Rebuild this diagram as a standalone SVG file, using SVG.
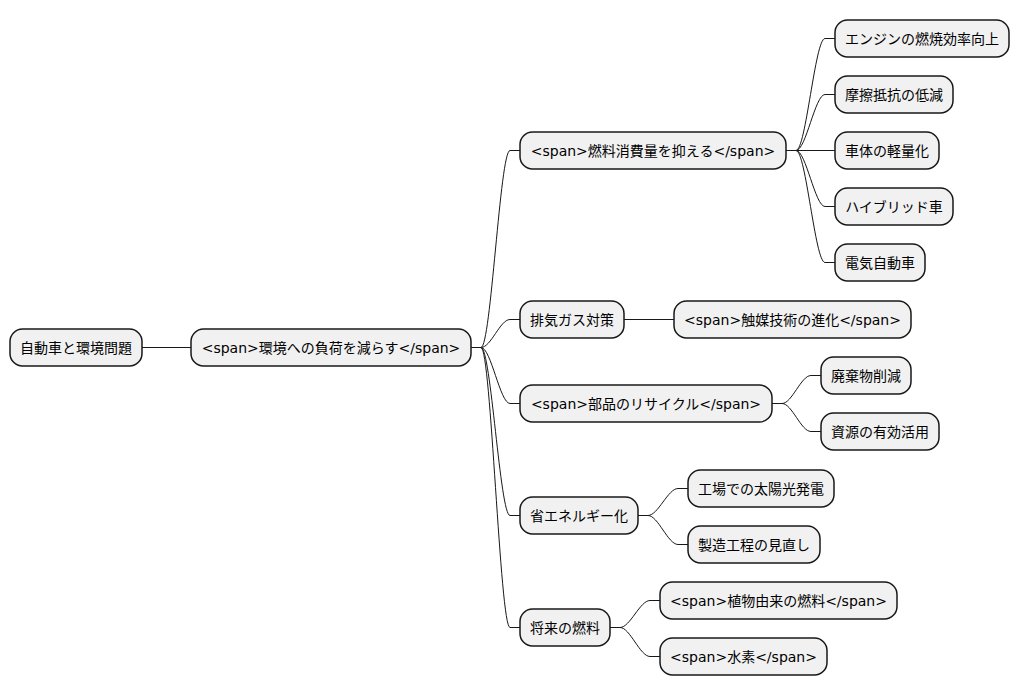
<svg xmlns="http://www.w3.org/2000/svg" width="1020" height="696" viewBox="0 0 1020 696">
<style>
.n rect{fill:#F1F1F1;stroke:#181818;stroke-width:1.5}
.n text{font-family:"DejaVu Sans","Noto Sans CJK JP",sans-serif;font-size:14px;fill:#000;text-anchor:middle}
.c path{fill:none;stroke:#181818;stroke-width:1}
</style>
<rect width="1020" height="696" fill="#FFFFFF"/>
<g class="c" id="connectors">
<path d="M142,347.5 L191,347.5"/>
<path d="M471,347.5 L481,347.5 C491,347.5 500,150.5 510,150.5 L520,150.5"/>
<path d="M471,347.5 L481,347.5 C491,347.5 500,319.5 510,319.5 L520,319.5"/>
<path d="M471,347.5 L481,347.5 C491,347.5 500,403.5 510,403.5 L520,403.5"/>
<path d="M471,347.5 L481,347.5 C491,347.5 500,515.5 510,515.5 L520,515.5"/>
<path d="M471,347.5 L481,347.5 C491,347.5 500,627.5 510,627.5 L520,627.5"/>
<path d="M786,150.5 L796,150.5 C806,150.5 815,38.5 825,38.5 L835,38.5"/>
<path d="M786,150.5 L796,150.5 C806,150.5 815,94.5 825,94.5 L835,94.5"/>
<path d="M786,150.5 L835,150.5"/>
<path d="M786,150.5 L796,150.5 C806,150.5 815,206.5 825,206.5 L835,206.5"/>
<path d="M786,150.5 L796,150.5 C806,150.5 815,262.5 825,262.5 L835,262.5"/>
<path d="M624,319.5 L674,319.5"/>
<path d="M772,403.5 L782,403.5 C792,403.5 801,375.5 811,375.5 L821,375.5"/>
<path d="M772,403.5 L782,403.5 C792,403.5 801,431.5 811,431.5 L821,431.5"/>
<path d="M638,515.5 L648,515.5 C658,515.5 668,488.5 678,488.5 L688,488.5"/>
<path d="M638,515.5 L648,515.5 C658,515.5 668,544.5 678,544.5 L688,544.5"/>
<path d="M610,627.5 L620,627.5 C630,627.5 640,600.5 650,600.5 L660,600.5"/>
<path d="M610,627.5 L620,627.5 C630,627.5 640,656.5 650,656.5 L660,656.5"/>
</g>
<g class="n" id="root"><rect x="10" y="329" width="132" height="37" rx="12.5"/><text x="76" y="352.5">自動車と環境問題</text></g>
<g class="n" id="n1"><rect x="191" y="329" width="280" height="37" rx="12.5"/><text x="331" y="352.5">&lt;span&gt;環境への負荷を減らす&lt;/span&gt;</text></g>
<g class="n" id="a"><rect x="520" y="132" width="266" height="37" rx="12.5"/><text x="653" y="155.5">&lt;span&gt;燃料消費量を抑える&lt;/span&gt;</text></g>
<g class="n" id="a1"><rect x="835" y="20" width="174" height="37" rx="12.5"/><text x="922" y="43.5">エンジンの燃焼効率向上</text></g>
<g class="n" id="a2"><rect x="835" y="76" width="118" height="37" rx="12.5"/><text x="894" y="99.5">摩擦抵抗の低減</text></g>
<g class="n" id="a3"><rect x="835" y="132" width="104" height="37" rx="12.5"/><text x="887" y="155.5">車体の軽量化</text></g>
<g class="n" id="a4"><rect x="835" y="188" width="118" height="37" rx="12.5"/><text x="894" y="211.5">ハイブリッド車</text></g>
<g class="n" id="a5"><rect x="835" y="244" width="90" height="37" rx="12.5"/><text x="880" y="267.5">電気自動車</text></g>
<g class="n" id="b"><rect x="520" y="301" width="104" height="37" rx="12.5"/><text x="572" y="324.5">排気ガス対策</text></g>
<g class="n" id="b1"><rect x="674" y="301" width="237" height="37" rx="12.5"/><text x="792.5" y="324.5">&lt;span&gt;触媒技術の進化&lt;/span&gt;</text></g>
<g class="n" id="c"><rect x="520" y="385" width="252" height="37" rx="12.5"/><text x="646" y="408.5">&lt;span&gt;部品のリサイクル&lt;/span&gt;</text></g>
<g class="n" id="c1"><rect x="821" y="357" width="90" height="37" rx="12.5"/><text x="866" y="380.5">廃棄物削減</text></g>
<g class="n" id="c2"><rect x="821" y="413" width="118" height="37" rx="12.5"/><text x="880" y="436.5">資源の有効活用</text></g>
<g class="n" id="d"><rect x="520" y="497" width="118" height="37" rx="12.5"/><text x="579" y="520.5">省エネルギー化</text></g>
<g class="n" id="d1"><rect x="688" y="470" width="146" height="37" rx="12.5"/><text x="761" y="493.5">工場での太陽光発電</text></g>
<g class="n" id="d2"><rect x="688" y="526" width="132" height="37" rx="12.5"/><text x="754" y="549.5">製造工程の見直し</text></g>
<g class="n" id="e"><rect x="520" y="609" width="90" height="37" rx="12.5"/><text x="565" y="632.5">将来の燃料</text></g>
<g class="n" id="e1"><rect x="660" y="582" width="237" height="37" rx="12.5"/><text x="778.5" y="605.5">&lt;span&gt;植物由来の燃料&lt;/span&gt;</text></g>
<g class="n" id="e2"><rect x="660" y="638" width="167" height="37" rx="12.5"/><text x="743.5" y="661.5">&lt;span&gt;水素&lt;/span&gt;</text></g>
</svg>
